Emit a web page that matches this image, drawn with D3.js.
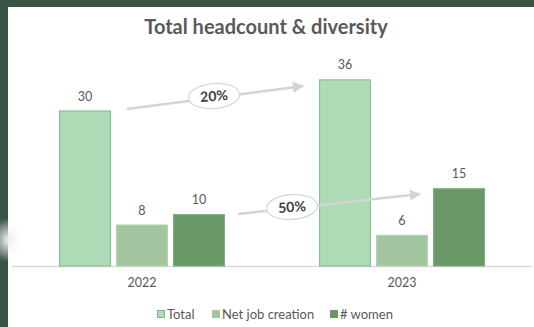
<!DOCTYPE html>
<html>
<head>
<meta charset="utf-8">
<script src="https://cdn.jsdelivr.net/npm/d3@7"></script>
<style>
  html, body { margin: 0; padding: 0; background: #fff; }
  svg { display: block; }
</style>
</head>
<body>
<svg id="chart" width="534" height="327"></svg>
<script>
// Chart data
const years = ["2022", "2023"];
const seriesNames = ["Total", "Net job creation", "# women"];
const totalValues = [30, 36];
const netJobValues = [8, 6];
const womenValues = [10, 15];
const growthLabels = ["20%", "50%"];

const fills = ["#aedbb5", "#a2c5a0", "#679866"];
const strokes = ["#8cc092", "#b4d3b2", "#80ad7f"];

const W = 534, H = 327;
const svg = d3.select("#chart");
const font = "Lato, 'Open Sans', sans-serif";

// Dark frame on the left and top edges
svg.append("rect").attr("x", 0).attr("y", 0).attr("width", W).attr("height", H).attr("fill", "#3a5545");
svg.append("rect").attr("x", 8).attr("y", 7).attr("width", W - 8).attr("height", H - 7).attr("fill", "#ffffff");

// Faint shadow near the left edge
const defs = svg.append("defs");
const rg = defs.append("radialGradient").attr("id", "shade");
rg.append("stop").attr("offset", "0%").attr("stop-color", "#ececec");
rg.append("stop").attr("offset", "100%").attr("stop-color", "#ffffff").attr("stop-opacity", 0);
svg.append("ellipse").attr("cx", 8).attr("cy", 240).attr("rx", 18).attr("ry", 22).attr("fill", "url(#shade)");

// Title
svg.append("text")
  .attr("x", 266).attr("y", 34)
  .attr("text-anchor", "middle")
  .attr("font-family", font).attr("font-weight", "bold")
  .attr("font-size", 20).attr("fill", "#595959")
  .text("Total headcount & diversity");

const baseY = 266;
const rows = years.map((y, i) => ({
  year: y,
  values: [totalValues[i], netJobValues[i], womenValues[i]]
}));

const x0 = d3.scaleBand().domain(years).range([12, 532]).paddingInner(0.362).paddingOuter(0.181);
const x1 = d3.scaleBand().domain(seriesNames).range([0, x0.bandwidth()]).paddingInner(0.09);
const y = d3.scaleLinear().domain([0, 30]).range([baseY, 110.5]);

// Baseline
svg.append("line")
  .attr("x1", 12).attr("x2", 532).attr("y1", baseY + 0.5).attr("y2", baseY + 0.5)
  .attr("stroke", "#d9d9d9").attr("stroke-width", 1.5);

// Bars
const groups = svg.selectAll("g.year").data(rows).enter().append("g")
  .attr("class", "year")
  .attr("transform", d => `translate(${x0(d.year)},0)`);

groups.selectAll("rect").data(d => d.values.map((v, k) => ({ v, k }))).enter().append("rect")
  .attr("x", d => x1(seriesNames[d.k]) + 0.5)
  .attr("y", d => y(d.v) + 0.5)
  .attr("width", x1.bandwidth() - 1)
  .attr("height", d => baseY - y(d.v) - 0.5)
  .attr("fill", d => fills[d.k])
  .attr("stroke", d => strokes[d.k])
  .attr("stroke-width", 1.2);

// Value labels
groups.selectAll("text.val").data(d => d.values.map((v, k) => ({ v, k }))).enter().append("text")
  .attr("class", "val")
  .attr("x", d => x1(seriesNames[d.k]) + x1.bandwidth() / 2)
  .attr("y", d => y(d.v) - 10)
  .attr("text-anchor", "middle")
  .attr("font-family", font).attr("font-size", 12.5).attr("fill", "#595959")
  .text(d => d.v);

// Category labels
svg.selectAll("text.cat").data(years).enter().append("text")
  .attr("class", "cat")
  .attr("x", d => x0(d) + x0.bandwidth() / 2)
  .attr("y", 287)
  .attr("text-anchor", "middle")
  .attr("font-family", font).attr("font-size", 12.5).attr("fill", "#595959")
  .text(d => d);

// Growth arrows with labelled bubbles
const arrowColor = "#d4d4d4";
defs.append("marker")
  .attr("id", "head").attr("viewBox", "0 0 10 10")
  .attr("refX", 9).attr("refY", 5)
  .attr("markerWidth", 4.5).attr("markerHeight", 4.5)
  .attr("markerUnits", "strokeWidth")
  .attr("orient", "auto")
  .append("path").attr("d", "M0,0 L10,5 L0,10 Z").attr("fill", arrowColor);

const arrows = [
  { from: [127, 109], to: [303, 86], bubble: [214, 96], label: growthLabels[0] },
  { from: [238, 214], to: [420, 194], bubble: [292, 207], label: growthLabels[1] }
];

arrows.forEach(a => {
  svg.append("line")
    .attr("x1", a.from[0]).attr("y1", a.from[1])
    .attr("x2", a.to[0]).attr("y2", a.to[1])
    .attr("stroke", arrowColor).attr("stroke-width", 2.5)
    .attr("marker-end", "url(#head)");
  const ang = Math.atan2(a.to[1] - a.from[1], a.to[0] - a.from[0]) * 180 / Math.PI;
  const g = svg.append("g").attr("transform", `translate(${a.bubble[0]},${a.bubble[1]}) rotate(${ang * 0.6})`);
  g.append("ellipse").attr("rx", 25.5).attr("ry", 12.5)
    .attr("fill", "#ffffff").attr("stroke", "#d6d6d6").attr("stroke-width", 1.2);
  g.append("text")
    .attr("y", 5)
    .attr("text-anchor", "middle")
    .attr("font-family", font).attr("font-weight", "bold")
    .attr("font-size", 14).attr("fill", "#404040")
    .text(a.label);
});

// Legend
const legendItems = [
  { name: seriesNames[0], x: 157 },
  { name: seriesNames[1], x: 212 },
  { name: seriesNames[2], x: 330 }
];
legendItems.forEach((it, k) => {
  svg.append("rect")
    .attr("x", it.x + 0.5).attr("y", 310.5).attr("width", 7).attr("height", 7)
    .attr("fill", fills[k]).attr("stroke", k === 0 ? "#7fb585" : fills[k]).attr("stroke-width", 1);
  svg.append("text")
    .attr("x", it.x + 10).attr("y", 318.5)
    .attr("font-family", font).attr("font-size", 13).attr("fill", "#595959")
    .text(it.name);
});
</script>
</body>
</html>
